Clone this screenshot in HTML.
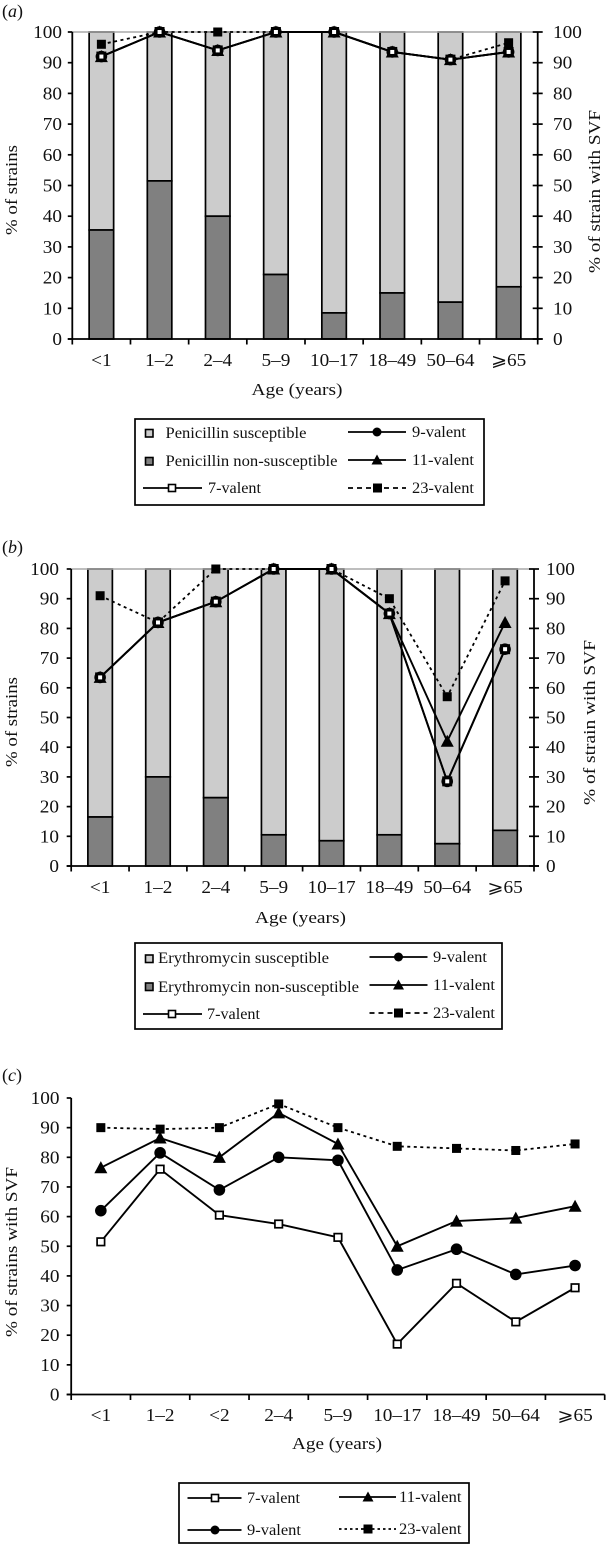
<!DOCTYPE html>
<html lang="en">
<head>
<meta charset="utf-8">
<title>Serotype vaccine formulation coverage by age</title>
<style>
html,body{margin:0;padding:0;background:#fff;}
svg{display:block;}
text{font-family:"Liberation Serif","DejaVu Serif",serif;fill:#111;}
.tick{font-size:17.5px;}
.title{font-size:17px;}
.leg{font-size:15.5px;}
.panel{font-size:18px;}
</style>
</head>
<body>
<svg id="figure" xmlns="http://www.w3.org/2000/svg" width="606" height="1544" viewBox="0 0 606 1544">
<rect width="606" height="1544" fill="#fff"/>

<text class="panel" x="2" y="17">(<tspan font-style="italic">a</tspan>)</text>
<text class="panel" x="2" y="553">(<tspan font-style="italic">b</tspan>)</text>
<text class="panel" x="2" y="1081">(<tspan font-style="italic">c</tspan>)</text>

<text class="title" transform="translate(17,235) rotate(-90)" textLength="90" lengthAdjust="spacingAndGlyphs">% of strains</text>
<text class="title" transform="translate(600,273) rotate(-90)" textLength="163" lengthAdjust="spacingAndGlyphs">% of strain with SVF</text>
<text class="title" x="251.5" y="395" textLength="91" lengthAdjust="spacingAndGlyphs">Age (years)</text>

<text class="title" transform="translate(17,767) rotate(-90)" textLength="90" lengthAdjust="spacingAndGlyphs">% of strains</text>
<text class="title" transform="translate(595,805) rotate(-90)" textLength="165" lengthAdjust="spacingAndGlyphs">% of strain with SVF</text>
<text class="title" x="255" y="923" textLength="91" lengthAdjust="spacingAndGlyphs">Age (years)</text>

<text class="title" transform="translate(17,1337) rotate(-90)" textLength="170" lengthAdjust="spacingAndGlyphs">% of strains with SVF</text>
<text class="title" x="292" y="1449" textLength="90" lengthAdjust="spacingAndGlyphs">Age (years)</text>

<g id="chart-a"></g>
<g id="chart-b"></g>
<g id="chart-c"></g>

<!-- Legend A -->
<g>
<rect x="135" y="419" width="349" height="86" fill="#fff" stroke="#000" stroke-width="1.7"/>
<g>
<rect x="145.5" y="429.5" width="7.5" height="7.5" fill="#ccc" stroke="#000" stroke-width="1.6"/>
<text class="leg" x="165.5" y="438" textLength="141" lengthAdjust="spacingAndGlyphs">Penicillin susceptible</text></g>
<g>
<rect x="145.5" y="457.5" width="7.5" height="7.5" fill="#808080" stroke="#000" stroke-width="1.6"/>
<text class="leg" x="165.5" y="466" textLength="172" lengthAdjust="spacingAndGlyphs">Penicillin non-susceptible</text></g>
<g>
<line x1="143" y1="488" x2="202" y2="488" stroke="#000" stroke-width="1.7"/>
<rect x="168.5" y="484.5" width="7" height="7" fill="#fff" stroke="#000" stroke-width="1.6"/>
<text class="leg" x="208" y="493" textLength="53" lengthAdjust="spacingAndGlyphs">7-valent</text></g>
<g>
<line x1="348" y1="432" x2="406" y2="432" stroke="#000" stroke-width="1.7"/>
<circle cx="377" cy="432" r="4.5" fill="#000"/>
<text class="leg" x="412" y="437" textLength="54" lengthAdjust="spacingAndGlyphs">9-valent</text></g>
<g>
<line x1="348" y1="460" x2="406" y2="460" stroke="#000" stroke-width="1.7"/>
<path d="M377 454.5 L382.5 464.5 L371.5 464.5 Z" fill="#000"/>
<text class="leg" x="412" y="465" textLength="62" lengthAdjust="spacingAndGlyphs">11-valent</text></g>
<g>
<line x1="348" y1="488" x2="406" y2="488" stroke="#000" stroke-width="1.7" stroke-dasharray="5 4"/>
<rect x="373" y="483.5" width="9" height="9" fill="#000"/>
<text class="leg" x="412" y="493" textLength="62" lengthAdjust="spacingAndGlyphs">23-valent</text></g>
</g>

<!-- Legend B -->
<g>
<rect x="135" y="943" width="367" height="86" fill="#fff" stroke="#000" stroke-width="1.7"/>
<g>
<rect x="145.5" y="955" width="7.5" height="7.5" fill="#ccc" stroke="#000" stroke-width="1.6"/>
<text class="leg" x="158" y="963" textLength="171" lengthAdjust="spacingAndGlyphs">Erythromycin susceptible</text></g>
<g>
<rect x="145.5" y="983" width="7.5" height="7.5" fill="#808080" stroke="#000" stroke-width="1.6"/>
<text class="leg" x="158" y="992" textLength="201" lengthAdjust="spacingAndGlyphs">Erythromycin non-susceptible</text></g>
<g>
<line x1="143" y1="1014" x2="202" y2="1014" stroke="#000" stroke-width="1.7"/>
<rect x="168.5" y="1010.5" width="7" height="7" fill="#fff" stroke="#000" stroke-width="1.6"/>
<text class="leg" x="207" y="1019" textLength="53" lengthAdjust="spacingAndGlyphs">7-valent</text></g>
<g>
<line x1="369.5" y1="957" x2="427.5" y2="957" stroke="#000" stroke-width="1.7"/>
<circle cx="398.5" cy="957" r="4.5" fill="#000"/>
<text class="leg" x="433" y="962" textLength="54" lengthAdjust="spacingAndGlyphs">9-valent</text></g>
<g>
<line x1="369.5" y1="985" x2="427.5" y2="985" stroke="#000" stroke-width="1.7"/>
<path d="M398.5 979.5 L404 989.5 L393 989.5 Z" fill="#000"/>
<text class="leg" x="433" y="990" textLength="62" lengthAdjust="spacingAndGlyphs">11-valent</text></g>
<g>
<line x1="369.5" y1="1013" x2="427.5" y2="1013" stroke="#000" stroke-width="1.7" stroke-dasharray="5 4"/>
<rect x="394" y="1008.5" width="9" height="9" fill="#000"/>
<text class="leg" x="433" y="1018" textLength="62" lengthAdjust="spacingAndGlyphs">23-valent</text></g>
</g>

<!-- Legend C -->
<g>
<rect x="179" y="1483" width="290" height="60" fill="#fff" stroke="#000" stroke-width="1.7"/>
<g>
<line x1="187.5" y1="1498" x2="241.5" y2="1498" stroke="#000" stroke-width="1.7"/>
<rect x="211.5" y="1494.5" width="7" height="7" fill="#fff" stroke="#000" stroke-width="1.6"/>
<text class="leg" x="247" y="1503" textLength="53" lengthAdjust="spacingAndGlyphs">7-valent</text></g>
<g>
<line x1="187.5" y1="1530" x2="241.5" y2="1530" stroke="#000" stroke-width="1.7"/>
<circle cx="215" cy="1530" r="4.5" fill="#000"/>
<text class="leg" x="247" y="1535" textLength="54" lengthAdjust="spacingAndGlyphs">9-valent</text></g>
<g>
<line x1="339" y1="1497" x2="396" y2="1497" stroke="#000" stroke-width="1.7"/>
<path d="M368 1491.5 L373.5 1501.5 L362.5 1501.5 Z" fill="#000"/>
<text class="leg" x="399" y="1502" textLength="62.5" lengthAdjust="spacingAndGlyphs">11-valent</text></g>
<g>
<line x1="339" y1="1529" x2="396" y2="1529" stroke="#000" stroke-width="1.7" stroke-dasharray="2.5 3"/>
<rect x="363.5" y="1524.5" width="9" height="9" fill="#000"/>
<text class="leg" x="399" y="1534" textLength="62.5" lengthAdjust="spacingAndGlyphs">23-valent</text></g>
</g>
</svg>

<script>
// ---- Shared tick labels ----
const valueTicks = [0, 10, 20, 30, 40, 50, 60, 70, 80, 90, 100];

// ---- Chart A: penicillin ----
const categoriesA = ['<1', '1–2', '2–4', '5–9', '10–17', '18–49', '50–64', '⩾65'];
const nonSusceptibleA = [35.5, 51.5, 40, 21, 8.5, 15, 12, 17];
const valent7A = [92, 100, 94, 100, 100, 93.5, 91, 93.5];
const valent9A = [92, 100, 94, 100, 100, 93.5, 91, 93.5];
const valent11A = [92, 100, 94, 100, 100, 93.5, 91, 93.5];
const valent23A = [96, 100, 100, 100, 100, 93.5, 91, 96.5];

// ---- Chart B: erythromycin ----
const categoriesB = ['<1', '1–2', '2–4', '5–9', '10–17', '18–49', '50–64', '⩾65'];
const nonSusceptibleB = [16.5, 30, 23, 10.5, 8.5, 10.5, 7.5, 12];
const valent7B = [63.5, 82, 89, 100, 100, 85, 28.5, 73];
const valent9B = [63.5, 82, 89, 100, 100, 85, 28.5, 73];
const valent11B = [63.5, 82, 89, 100, 100, 85, 42, 82];
const valent23B = [91, 82, 100, 100, 100, 90, 57, 96];

// ---- Chart C: all strains ----
const categoriesC = ['<1', '1–2', '<2', '2–4', '5–9', '10–17', '18–49', '50–64', '⩾65'];
const valent7C = [51.5, 76, 60.5, 57.5, 53, 17, 37.5, 24.5, 36];
const valent9C = [62, 81.5, 69, 80, 79, 42, 49, 40.5, 43.5];
const valent11C = [76.5, 86.5, 80, 95, 84.5, 50, 58.5, 59.5, 63.5];
const valent23C = [90, 89.5, 90, 98, 90, 83.7, 83, 82.3, 84.5];

const NS = 'http://www.w3.org/2000/svg';

function mk(parent, tag, name, attrs, txt) {
  const el = document.createElementNS(NS, tag);
  
  
  for (const k in attrs) el.setAttribute(k, attrs[k]);
  if (txt !== undefined) el.textContent = txt;
  parent.appendChild(el);
  return el;
}

function marker(g, kind, x, y, name, o) {
  if (kind === 'open') {
    mk(g, 'rect', name, {x: x - o.open / 2, y: y - o.open / 2, width: o.open, height: o.open, fill: '#fff', stroke: '#000', 'stroke-width': o.openStroke});
  } else if (kind === 'circle') {
    mk(g, 'circle', name, {cx: x, cy: y, r: o.circle, fill: '#000'});
  } else if (kind === 'tri') {
    const r = o.tri;
    mk(g, 'path', name, {d: 'M' + x + ' ' + (y - r) + 'L' + (x + r) + ' ' + (y + r * 0.85) + 'L' + (x - r) + ' ' + (y + r * 0.85) + 'Z', fill: '#000'});
  } else {
    mk(g, 'rect', name, {x: x - o.solid / 2, y: y - o.solid / 2, width: o.solid, height: o.solid, fill: '#000'});
  }
}

function drawChart(id, cats, nonSus, series, box, o) {
  const root = document.getElementById(id);
  const step = (box.right - box.left) / cats.length;
  const xAt = function (i) { return box.left + step * (i + 0.5); };
  const yAt = function (v) { return box.y0 + (box.y100 - box.y0) * v / 100; };

  if (nonSus) {
    const barW = 24.5;
    nonSus.forEach(function (v, i) {
      const bg = mk(root, 'g', 'bar-' + cats[i], {});
      mk(bg, 'rect', 'bar-susceptible', {x: xAt(i) - barW / 2, y: yAt(100), width: barW, height: yAt(v) - yAt(100), fill: '#ccc', stroke: '#000', 'stroke-width': 1.7});
      mk(bg, 'rect', 'bar-non-susceptible', {x: xAt(i) - barW / 2, y: yAt(v), width: barW, height: yAt(0) - yAt(v), fill: '#808080', stroke: '#000', 'stroke-width': 1.7});
    });
    mk(root, 'line', 'top-gridline', {x1: box.left, x2: box.right, y1: yAt(100), y2: yAt(100), stroke: '#a8a8a8', 'stroke-width': 1.5});
  }

  // axes
  mk(root, 'line', 'y-axis', {x1: box.left, x2: box.left, y1: yAt(100), y2: yAt(0), stroke: '#000', 'stroke-width': 1.8});
  mk(root, 'line', 'x-axis', {x1: box.left - 4.5, x2: box.right + (box.dual ? 5 : 0), y1: yAt(0), y2: yAt(0), stroke: '#000', 'stroke-width': 1.8});
  if (box.dual) mk(root, 'line', 'y2-axis', {x1: box.right, x2: box.right, y1: yAt(100), y2: yAt(0), stroke: '#000', 'stroke-width': 1.8});

  valueTicks.forEach(function (v) {
    mk(root, 'line', 'y-tick-' + v, {x1: box.left - 4.5, x2: box.left, y1: yAt(v), y2: yAt(v), stroke: '#000', 'stroke-width': 1.7});
    mk(root, 'text', 'y-tick-label-' + v, {class: 'tick', 'text-anchor': 'end', transform: 'translate(' + box.labelR + ',' + (yAt(v) + 6) + ') scale(1.1,1)'}, String(v));
    if (box.dual) {
      mk(root, 'line', 'y2-tick-' + v, {x1: box.right - 5, x2: box.right + 5, y1: yAt(v), y2: yAt(v), stroke: '#000', 'stroke-width': 1.7});
      mk(root, 'text', 'y2-tick-label-' + v, {class: 'tick', 'text-anchor': 'start', transform: 'translate(' + box.labelL + ',' + (yAt(v) + 6) + ') scale(1.1,1)'}, String(v));
    }
  });

  for (let i = 0; i <= cats.length; i++) {
    const tx = box.left + step * i;
    mk(root, 'line', 'x-tick-' + i, {x1: tx, x2: tx, y1: yAt(0), y2: yAt(0) + 5.5, stroke: '#000', 'stroke-width': 1.7});
  }
  cats.forEach(function (c, i) {
    mk(root, 'text', 'x-tick-label-' + i, {class: 'tick', 'text-anchor': 'middle', transform: 'translate(' + xAt(i) + ',' + box.catY + ') scale(1.1,1)'}, c);
  });

  // series
  series.forEach(function (s) {
    const g = mk(root, 'g', 'series-' + s.name, {});
    const pts = s.values.map(function (v, i) { return xAt(i) + ',' + yAt(v); }).join(' ');
    const lineAttrs = {points: pts, fill: 'none', stroke: '#000', 'stroke-width': s.dash ? 1.8 : 1.9};
    if (s.dash) lineAttrs['stroke-dasharray'] = s.dash;
    mk(g, 'polyline', 'line-' + s.name, lineAttrs);
    s.values.forEach(function (v, i) {
      marker(g, s.kind, xAt(i), yAt(v), 'point-' + s.name + '-' + i, o);
    });
  });
}

const heavy = {open: 7, openStroke: 3, circle: 5.8, tri: 6.5, solid: 9};
const light = {open: 7.5, openStroke: 1.7, circle: 5.8, tri: 6.5, solid: 9};

drawChart('chart-a', categoriesA, nonSusceptibleA, [
  {name: '23-valent', values: valent23A, kind: 'solid', dash: '3 3.5'},
  {name: '11-valent', values: valent11A, kind: 'tri'},
  {name: '9-valent', values: valent9A, kind: 'circle'},
  {name: '7-valent', values: valent7A, kind: 'open'}
], {left: 72.3, right: 537.7, y100: 32, y0: 339, dual: true, labelR: 62, labelL: 553, catY: 366}, heavy);

drawChart('chart-b', categoriesB, nonSusceptibleB, [
  {name: '23-valent', values: valent23B, kind: 'solid', dash: '3 3.5'},
  {name: '11-valent', values: valent11B, kind: 'tri'},
  {name: '9-valent', values: valent9B, kind: 'circle'},
  {name: '7-valent', values: valent7B, kind: 'open'}
], {left: 71.2, right: 534, y100: 569, y0: 866, dual: true, labelR: 59, labelL: 546, catY: 893}, heavy);

drawChart('chart-c', categoriesC, null, [
  {name: '23-valent', values: valent23C, kind: 'solid', dash: '3 3.5'},
  {name: '11-valent', values: valent11C, kind: 'tri'},
  {name: '9-valent', values: valent9C, kind: 'circle'},
  {name: '7-valent', values: valent7C, kind: 'open'}
], {left: 71.2, right: 604.7, y100: 1098, y0: 1394.5, dual: false, labelR: 59.5, labelL: 0, catY: 1421}, light);
</script>
</body>
</html>
